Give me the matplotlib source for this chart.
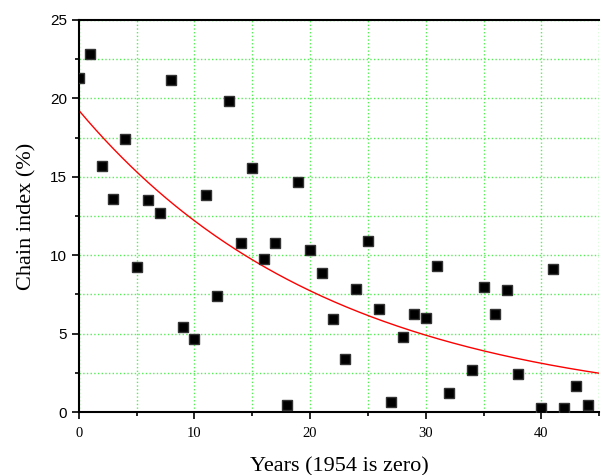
"""Chain index versus years since 1954, with exponential fit."""
import numpy as np
from matplotlib import pyplot as plt
from matplotlib.ticker import MultipleLocator

years = [0, 1, 2, 3, 4, 5, 6, 7, 8, 9, 10, 11, 12, 13, 14, 15, 16, 17, 18, 19,
         20, 21, 22, 23, 24, 25, 26, 27, 28, 29, 30, 31, 32, 34, 35, 36, 37, 38,
         40, 41, 42, 43, 44]
chain_index = [21.3, 22.8, 15.7, 13.6, 17.4, 9.25, 13.55, 12.7, 21.2, 5.45,
               4.65, 13.85, 7.4, 19.85, 10.8, 15.55, 9.75, 10.8, 0.45, 14.7,
               10.33, 8.86, 5.93, 3.38, 7.84, 10.9, 6.57, 0.66, 4.78, 6.27,
               6.0, 9.31, 1.19, 2.7, 7.97, 6.23, 7.78, 2.44,
               0.25, 9.1, 0.24, 1.64, 0.47]

# exponential decay fit: y = fit_a * exp(-fit_k * x)
fit_a = 19.25
fit_k = 0.0456

fig = plt.figure(figsize=(6.02, 4.75), dpi=100)
ax = fig.add_axes([0.1307, 0.1326, 0.8646, 0.8253])

grid_kw = dict(color='#55ee55', linestyle=':', linewidth=1.0)
ax.grid(True, which='both', **grid_kw)
ax.set_axisbelow(True)

x_fit = np.linspace(0, 45, 300)
ax.plot(x_fit, fit_a * np.exp(-fit_k * x_fit), color='red', linewidth=1.0, zorder=2)
ax.plot(years, chain_index, linestyle='none', marker='s', markersize=6.5,
        color='black', markeredgecolor='#333333', clip_on=True, zorder=3)

ax.set_xlim(0, 45)
ax.set_ylim(0, 25)
ax.xaxis.set_major_locator(MultipleLocator(10))
ax.xaxis.set_minor_locator(MultipleLocator(5))
ax.yaxis.set_major_locator(MultipleLocator(5))
ax.yaxis.set_minor_locator(MultipleLocator(2.5))

ax.tick_params(which='major', direction='out', length=5, width=1.2)
ax.tick_params(which='minor', direction='out', length=3, width=1.2)
ax.tick_params(axis='x', pad=6)
ax.tick_params(top=False, right=False)
for lab in ax.get_xticklabels():
    lab.set_fontfamily('Liberation Serif')
    lab.set_fontsize(10.5)
for lab in ax.get_yticklabels():
    lab.set_fontfamily('Liberation Sans')
    lab.set_fontsize(11)

for side in ('left', 'bottom', 'top'):
    ax.spines[side].set_linewidth(1.5)
ax.spines['right'].set_visible(False)

ax.set_xlabel('Years (1954 is zero)', fontfamily='Liberation Serif', fontsize=16,
              labelpad=12)
ax.set_ylabel('Chain index (%)', fontfamily='Liberation Serif', fontsize=16,
              labelpad=10)

plt.savefig('out.png', dpi=100)
